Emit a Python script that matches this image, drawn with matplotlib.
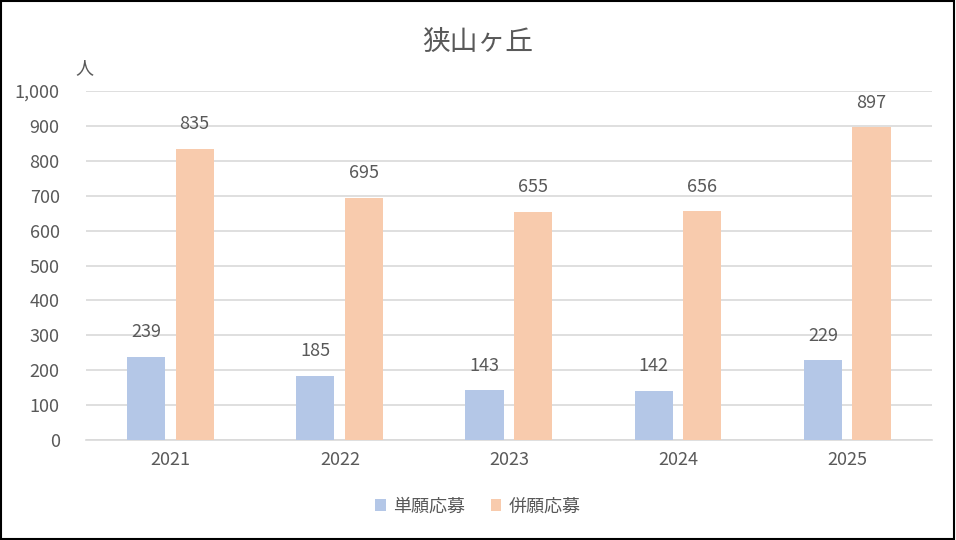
import matplotlib
matplotlib.use("Agg")
import matplotlib.pyplot as plt
import numpy as np
from matplotlib.patches import Rectangle

plt.rcParams['font.family'] = ['Noto Sans CJK JP', 'DejaVu Sans']

years = ['2021', '2022', '2023', '2024', '2025']
single = [239, 185, 143, 142, 229]
combined = [835, 695, 655, 656, 897]
series_names = ['単願応募', '併願応募']
colors = ['#b4c7e7', '#f8cbad']
text_color = '#595959'

fig = plt.figure(figsize=(9.56, 5.4), dpi=100)
ax = fig.add_axes([0.09, 0.185, 0.885, 0.6463])

x = np.arange(len(years))
w = 0.225
b1 = ax.bar(x - 0.145, single, w, color=colors[0], label=series_names[0], zorder=3)
b2 = ax.bar(x + 0.142, combined, w, color=colors[1], label=series_names[1], zorder=3)

for bars, vals in [(b1, single), (b2, combined)]:
    for r, v in zip(bars, vals):
        ax.annotate(str(v), (r.get_x() + r.get_width() / 2, v), xytext=(0, 11),
                    textcoords='offset points', ha='center', va='bottom',
                    fontsize=13, color=text_color)

ax.set_xlim(-0.5, len(years) - 0.5)
ax.set_ylim(0, 1000)
ax.set_yticks(range(0, 1001, 100))
ax.set_yticklabels(['{:,}'.format(v) for v in range(0, 1001, 100)])
ax.set_xticks(x)
ax.set_xticklabels(years)
ax.tick_params(axis='both', length=0, labelsize=13, labelcolor=text_color)
ax.tick_params(axis='y', pad=19)
ax.tick_params(axis='x', pad=8)
ax.yaxis.grid(True, color='#d9d9d9', linewidth=1.2, zorder=0)
ax.set_axisbelow(True)
for s in ['top', 'right', 'left']:
    ax.spines[s].set_visible(False)
ax.spines['bottom'].set_color('#d9d9d9')
ax.spines['bottom'].set_linewidth(1.2)

fig.text(0.5, 0.922, '狭山ヶ丘', ha='center', va='center', fontsize=20, color=text_color)
fig.text(0.088, 0.873, '人', ha='center', va='center', fontsize=13, color=text_color)

fig.legend(loc='center', bbox_to_anchor=(0.5, 0.062), ncol=2, frameon=False,
           fontsize=13, labelcolor=text_color, handlelength=0.6, handleheight=0.6,
           handletextpad=0.4, columnspacing=1.4)

fig.add_artist(Rectangle((0.001, 0.002), 0.997, 0.996, transform=fig.transFigure,
                         fill=False, edgecolor='black', linewidth=1.5))

fig.savefig('out.png', dpi=100)
